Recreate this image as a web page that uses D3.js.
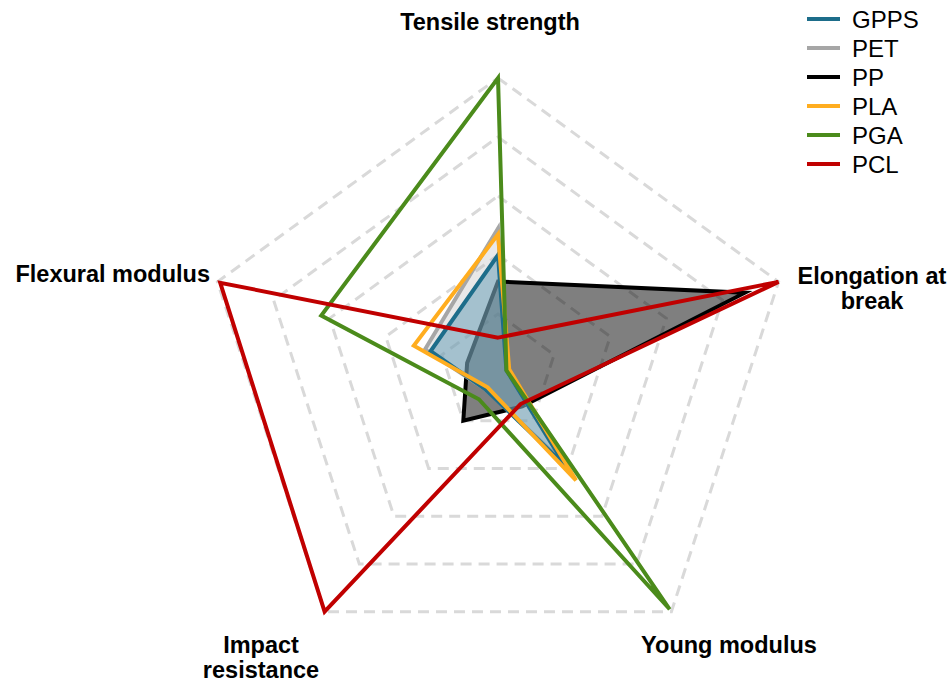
<!DOCTYPE html>
<html>
<head>
<meta charset="utf-8">
<script src="https://cdn.jsdelivr.net/npm/d3@7"></script>
<style>
    body { margin: 0; background: #fff; }
    svg { display: block; font-family: "Liberation Sans", Arial, sans-serif; }
    .axis-label { font-weight: bold; font-size: 23.5px; fill: #000; }
    .legend text { font-size: 24px; fill: #000; }
    .grid { fill: none; stroke: #d9d9d9; stroke-width: 3; stroke-dasharray: 11, 7; }
    .series { stroke-width: 4; }
</style>
</head>
<body>
<svg id="d3-radar" width="951" height="684"></svg>
<script>
/*** DATA ***/

// axes clockwise from the top
let axes = ["Tensile strength", "Elongation at\nbreak", "Young modulus", "Impact\nresistance", "Flexural modulus"];
let levels = [0.2, 0.4, 0.6, 0.8, 1.0];

let series = ["GPPS", "PET", "PP", "PLA", "PGA", "PCL"];

// normalised values, same order as axes
let gpps = [0.40, 0.03, 0.39, 0.07, 0.24];
let pet  = [0.49, 0.03, 0.37, 0.07, 0.26];
let pp   = [0.31, 0.88, 0.14, 0.20, 0.11];
let pla  = [0.47, 0.04, 0.45, 0.06, 0.30];
let pga  = [1.00, 0.03, 0.99, 0.11, 0.63];
let pcl  = [0.12, 1.00, 0.13, 1.00, 0.99];

/*** INIT ***/

let svg = d3.select("#d3-radar");

let cx = 498, cy = 373, radius = 295;

let r = d3.scaleLinear().domain([0, 1]).range([0, radius]);
let angle = d3.scalePoint().domain(d3.range(axes.length + 1)).range([0, 2 * Math.PI]);

let style = {
    GPPS: {stroke: "#1d6d8a", fill: "#5f9ab4", opacity: 0.5},
    PET:  {stroke: "#a6a6a6", fill: "#b4b4b4", opacity: 0.3},
    PP:   {stroke: "#000000", fill: "#000000", opacity: 0.5},
    PLA:  {stroke: "#ffad1f", fill: "none", opacity: 0},
    PGA:  {stroke: "#4b8b1b", fill: "none", opacity: 0},
    PCL:  {stroke: "#c00000", fill: "none", opacity: 0}
};

let values = {GPPS: gpps, PET: pet, PP: pp, PLA: pla, PGA: pga, PCL: pcl};

let line = d3.lineRadial()
    .angle((d, i) => angle(i))
    .radius((d) => r(d))
    .curve(d3.curveLinearClosed);

let g = svg.append("g").attr("transform", `translate(${cx}, ${cy})`);

/*** GRID ***/

g.selectAll("path.grid")
    .data(levels).enter()
    .append("path")
    .classed("grid", true)
    .attr("d", (lv) => line(axes.map(() => lv)));

/*** SERIES ***/

// PP sits underneath, the shaded ones follow, the outlines on top
let draw_order = ["PP", "PET", "GPPS", "PLA", "PGA", "PCL"];

g.selectAll("path.series")
    .data(draw_order).enter()
    .append("path")
    .classed("series", true)
    .attr("d", (s) => line(values[s]))
    .attr("fill", (s) => style[s].fill)
    .attr("fill-opacity", (s) => style[s].opacity)
    .attr("stroke", (s) => style[s].stroke);

/*** AXIS LABELS ***/

// text anchor point (relative to centre) and alignment per axis
let label_pos = [
    {x: -8,   y: -343, anchor: "middle"},
    {x: 374,  y: -89,  anchor: "middle"},
    {x: 231,  y: 280,  anchor: "middle"},
    {x: -237, y: 280,  anchor: "middle"},
    {x: -288, y: -91,  anchor: "end"}
];

let labels = g.selectAll("text.axis-label")
    .data(axes).enter()
    .append("text")
    .classed("axis-label", true)
    .attr("text-anchor", (d, i) => label_pos[i].anchor)
    .attr("y", (d, i) => label_pos[i].y);

labels.selectAll("tspan")
    .data((d, i) => d.split("\n").map((t) => ({t: t, i: i}))).enter()
    .append("tspan")
    .attr("x", (d) => label_pos[d.i].x)
    .attr("dy", (d, j) => j === 0 ? 0 : 25)
    .text((d) => d.t);

/*** LEGEND ***/

let legend = svg.append("g")
    .classed("legend", true)
    .attr("transform", "translate(807, 19)");

let items = legend.selectAll("g.item")
    .data(series).enter()
    .append("g")
    .classed("item", true)
    .attr("transform", (d, i) => `translate(0, ${i * 29})`);

items.append("line")
    .attr("x1", 0).attr("x2", 33)
    .attr("y1", 0).attr("y2", 0)
    .attr("stroke", (d) => style[d].stroke)
    .attr("stroke-width", 4);

items.append("text")
    .attr("x", 45)
    .attr("y", 9)
    .text((d) => d);
</script>
</body>
</html>
